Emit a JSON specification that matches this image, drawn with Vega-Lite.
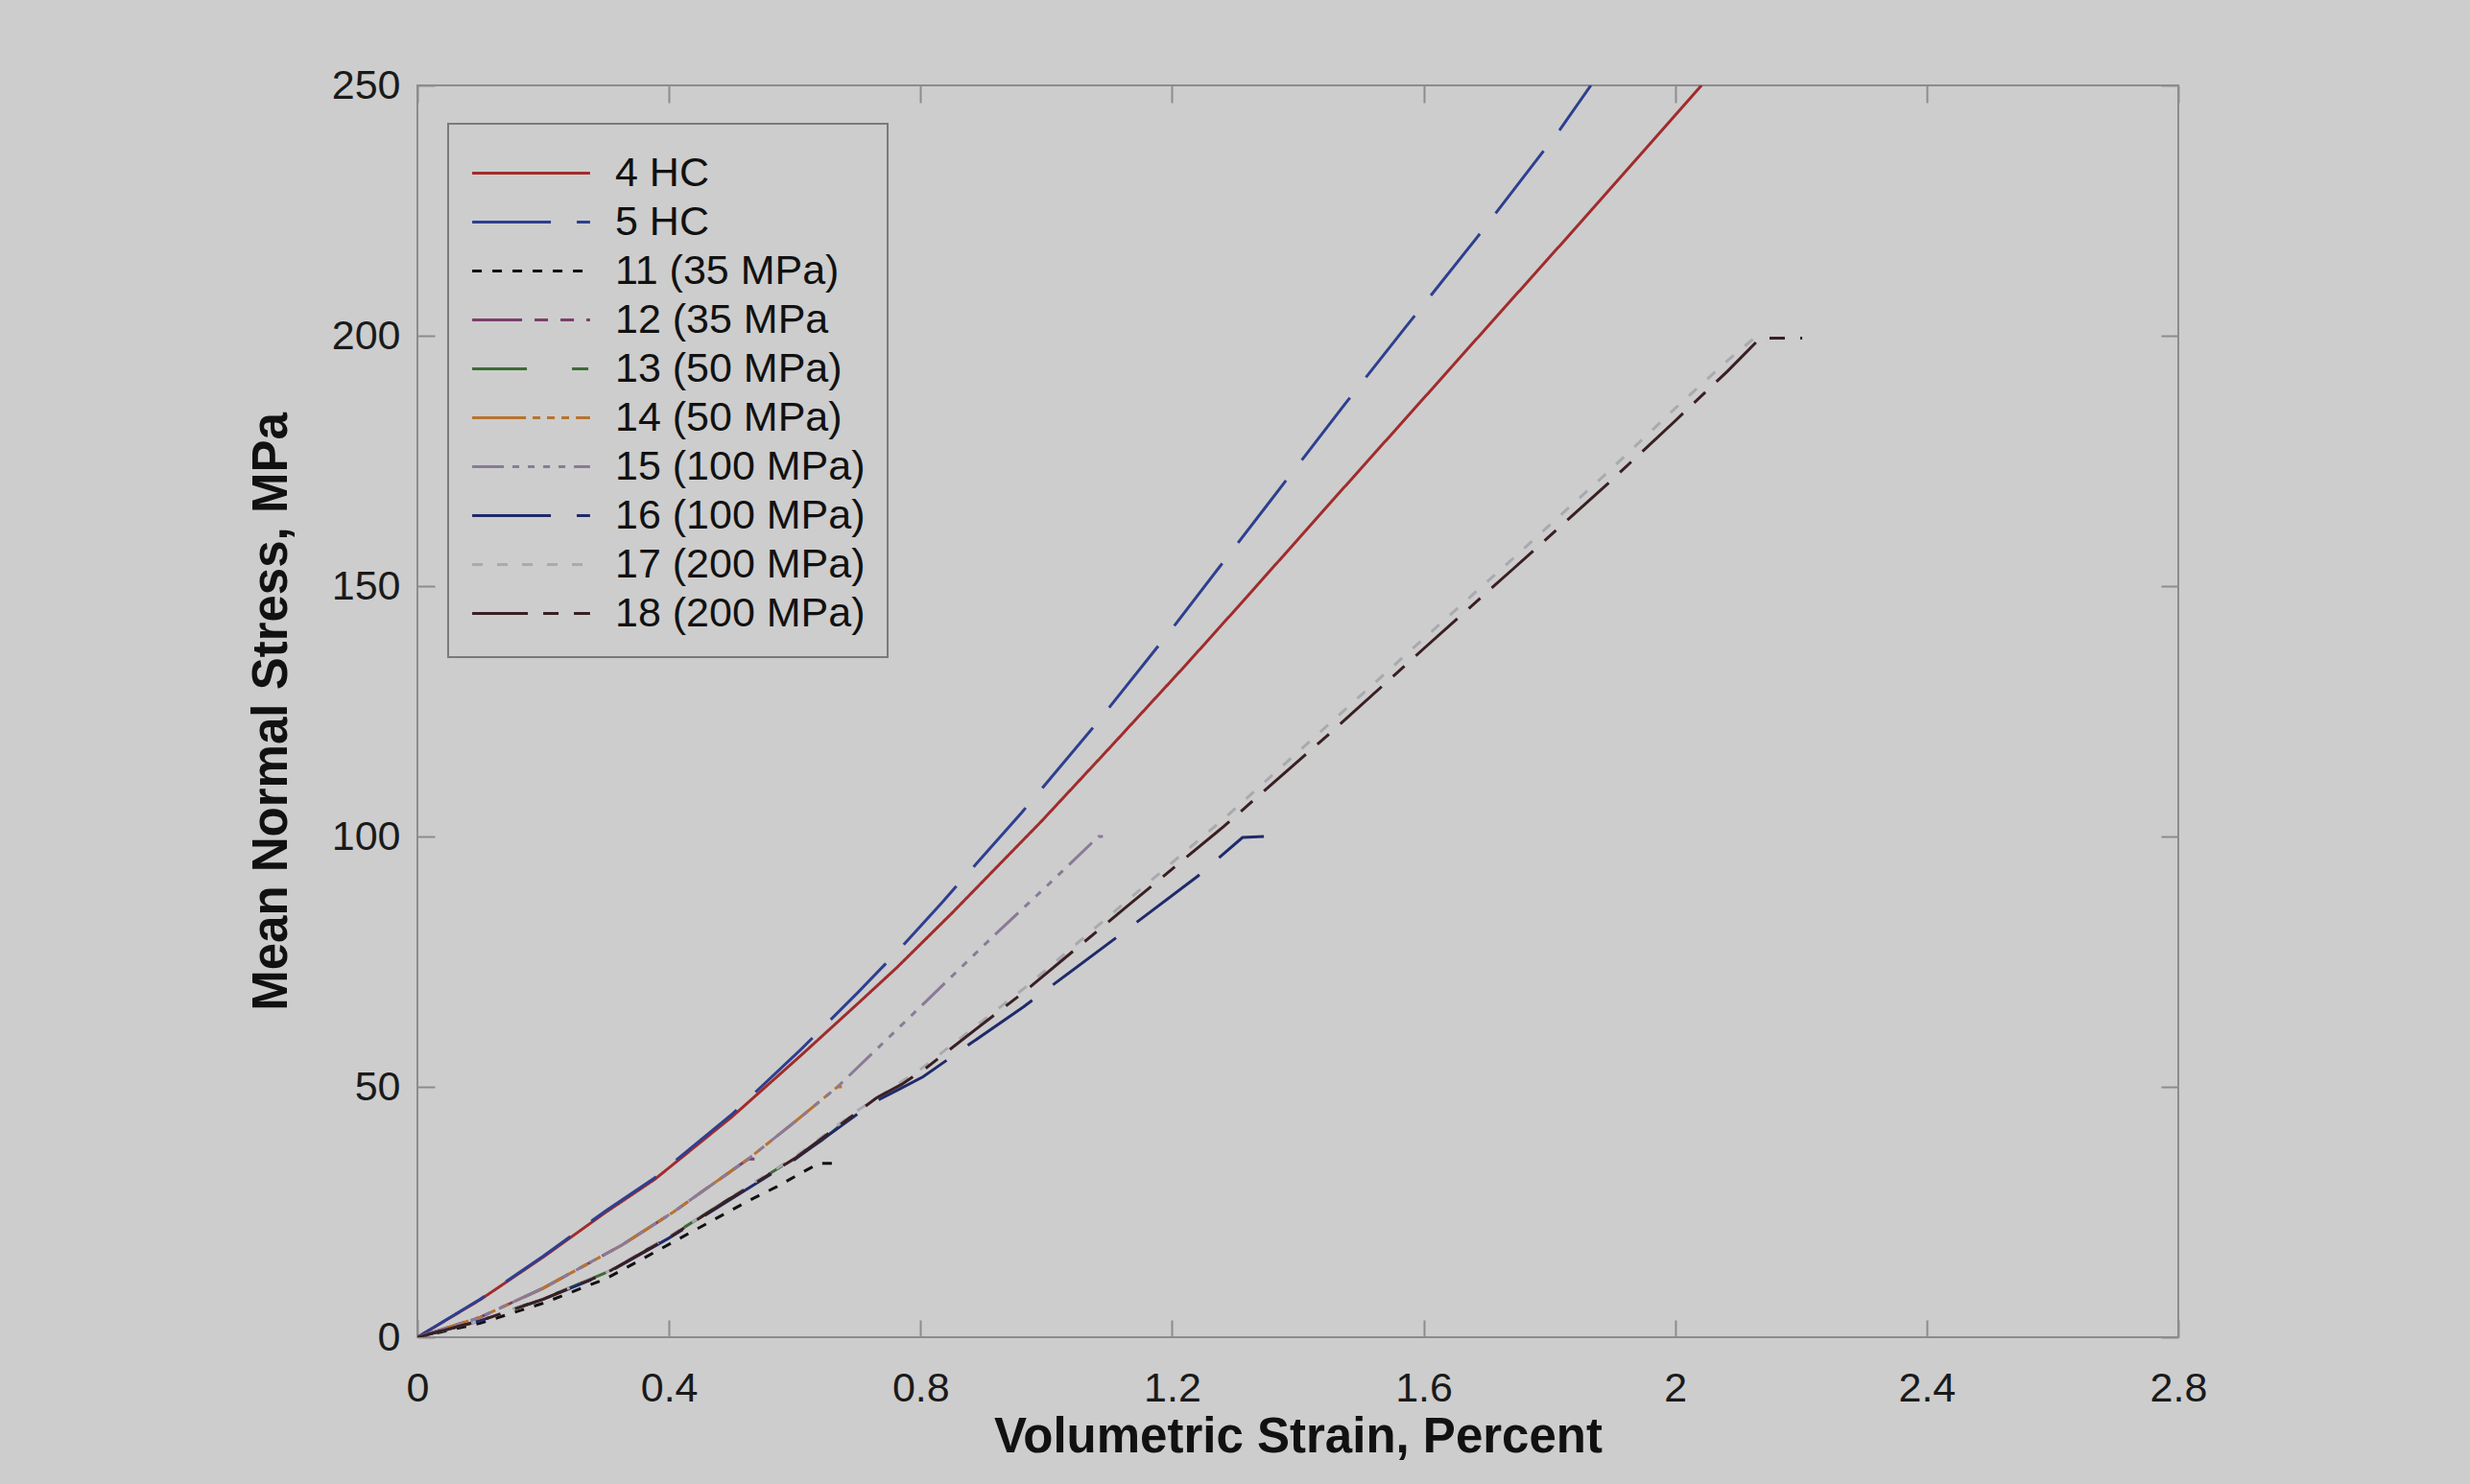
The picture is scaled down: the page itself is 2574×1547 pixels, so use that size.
{
  "$schema": "https://vega.github.io/schema/vega-lite/v6.json",
  "width": 1835,
  "height": 1305,
  "autosize": {"type": "none"},
  "padding": {"left": 435, "top": 89, "right": 304, "bottom": 153},
  "background": "#cdcdcd",
  "config": {
    "font": "Liberation Sans",
    "view": {"stroke": "#8c8c8c", "strokeWidth": 2, "fill": "#cdcdcd"},
    "axis": {
      "domain": false,
      "grid": false,
      "tickColor": "#8c8c8c",
      "tickWidth": 2,
      "tickSize": -18,
      "labelFlush": false,
      "labelFont": "Liberation Sans",
      "labelFontSize": 43,
      "labelColor": "#1a1a1a",
      "titleFont": "Liberation Sans",
      "titleFontSize": 51,
      "titleFontWeight": "bold",
      "titleColor": "#111111"
    },
    "legend": {"strokeWidth": 2}
  },
  "data": {
    "values": [
      {"test": "4 HC", "strain": 0, "stress": 0},
      {"test": "4 HC", "strain": 0.1, "stress": 7.5},
      {"test": "4 HC", "strain": 0.2, "stress": 16},
      {"test": "4 HC", "strain": 0.3, "stress": 25},
      {"test": "4 HC", "strain": 0.377, "stress": 31.5},
      {"test": "4 HC", "strain": 0.5, "stress": 44},
      {"test": "4 HC", "strain": 0.61, "stress": 56.3},
      {"test": "4 HC", "strain": 0.7, "stress": 66.6},
      {"test": "4 HC", "strain": 0.763, "stress": 73.9},
      {"test": "4 HC", "strain": 0.85, "stress": 84.7},
      {"test": "4 HC", "strain": 0.992, "stress": 103},
      {"test": "4 HC", "strain": 1.1, "stress": 117.6},
      {"test": "4 HC", "strain": 1.22, "stress": 134},
      {"test": "4 HC", "strain": 1.32, "stress": 148},
      {"test": "4 HC", "strain": 1.45, "stress": 166.4},
      {"test": "4 HC", "strain": 1.6, "stress": 187.5},
      {"test": "4 HC", "strain": 1.7, "stress": 201.6},
      {"test": "4 HC", "strain": 1.828, "stress": 219.6},
      {"test": "4 HC", "strain": 1.95, "stress": 236.9},
      {"test": "4 HC", "strain": 2.042, "stress": 250},

      {"test": "5 HC", "strain": 0, "stress": 0},
      {"test": "5 HC", "strain": 0.1, "stress": 7.6},
      {"test": "5 HC", "strain": 0.2, "stress": 16.2},
      {"test": "5 HC", "strain": 0.3, "stress": 25.3},
      {"test": "5 HC", "strain": 0.377, "stress": 31.8},
      {"test": "5 HC", "strain": 0.5, "stress": 44.5},
      {"test": "5 HC", "strain": 0.61, "stress": 57.5},
      {"test": "5 HC", "strain": 0.7, "stress": 68.8},
      {"test": "5 HC", "strain": 0.763, "stress": 77},
      {"test": "5 HC", "strain": 0.834, "stress": 86.8},
      {"test": "5 HC", "strain": 0.961, "stress": 104.8},
      {"test": "5 HC", "strain": 1.08, "stress": 122.6},
      {"test": "5 HC", "strain": 1.2, "stress": 141.5},
      {"test": "5 HC", "strain": 1.35, "stress": 166},
      {"test": "5 HC", "strain": 1.472, "stress": 185.9},
      {"test": "5 HC", "strain": 1.57, "stress": 201.5},
      {"test": "5 HC", "strain": 1.686, "stress": 219.8},
      {"test": "5 HC", "strain": 1.817, "stress": 241.2},
      {"test": "5 HC", "strain": 1.866, "stress": 250},

      {"test": "11 (35 MPa)", "strain": 0, "stress": 0},
      {"test": "11 (35 MPa)", "strain": 0.1, "stress": 2.8},
      {"test": "11 (35 MPa)", "strain": 0.2, "stress": 6.8},
      {"test": "11 (35 MPa)", "strain": 0.3, "stress": 11.7},
      {"test": "11 (35 MPa)", "strain": 0.366, "stress": 16.2},
      {"test": "11 (35 MPa)", "strain": 0.447, "stress": 21.8},
      {"test": "11 (35 MPa)", "strain": 0.526, "stress": 27.2},
      {"test": "11 (35 MPa)", "strain": 0.572, "stress": 30.1},
      {"test": "11 (35 MPa)", "strain": 0.613, "stress": 33},
      {"test": "11 (35 MPa)", "strain": 0.638, "stress": 34.7},
      {"test": "11 (35 MPa)", "strain": 0.66, "stress": 34.7},

      {"test": "12 (35 MPa", "strain": 0, "stress": 0},
      {"test": "12 (35 MPa", "strain": 0.1, "stress": 4},
      {"test": "12 (35 MPa", "strain": 0.2, "stress": 9.8},
      {"test": "12 (35 MPa", "strain": 0.264, "stress": 14.2},
      {"test": "12 (35 MPa", "strain": 0.325, "stress": 18.4},
      {"test": "12 (35 MPa", "strain": 0.407, "stress": 25},
      {"test": "12 (35 MPa", "strain": 0.463, "stress": 30},
      {"test": "12 (35 MPa", "strain": 0.526, "stress": 35.6},
      {"test": "12 (35 MPa", "strain": 0.536, "stress": 35.6},

      {"test": "13 (50 MPa)", "strain": 0, "stress": 0},
      {"test": "13 (50 MPa)", "strain": 0.1, "stress": 3.3},
      {"test": "13 (50 MPa)", "strain": 0.2, "stress": 7.7},
      {"test": "13 (50 MPa)", "strain": 0.3, "stress": 12.9},
      {"test": "13 (50 MPa)", "strain": 0.4, "stress": 20},
      {"test": "13 (50 MPa)", "strain": 0.5, "stress": 28},
      {"test": "13 (50 MPa)", "strain": 0.6, "stress": 35.8},
      {"test": "13 (50 MPa)", "strain": 0.643, "stress": 39.3},
      {"test": "13 (50 MPa)", "strain": 0.7, "stress": 45.2},
      {"test": "13 (50 MPa)", "strain": 0.73, "stress": 48.2},
      {"test": "13 (50 MPa)", "strain": 0.748, "stress": 48.6},

      {"test": "14 (50 MPa)", "strain": 0, "stress": 0},
      {"test": "14 (50 MPa)", "strain": 0.1, "stress": 4},
      {"test": "14 (50 MPa)", "strain": 0.2, "stress": 9.8},
      {"test": "14 (50 MPa)", "strain": 0.264, "stress": 14.2},
      {"test": "14 (50 MPa)", "strain": 0.325, "stress": 18.4},
      {"test": "14 (50 MPa)", "strain": 0.407, "stress": 25},
      {"test": "14 (50 MPa)", "strain": 0.463, "stress": 30},
      {"test": "14 (50 MPa)", "strain": 0.526, "stress": 35.6},
      {"test": "14 (50 MPa)", "strain": 0.6, "stress": 43},
      {"test": "14 (50 MPa)", "strain": 0.668, "stress": 50},
      {"test": "14 (50 MPa)", "strain": 0.68, "stress": 50},

      {"test": "15 (100 MPa)", "strain": 0, "stress": 0},
      {"test": "15 (100 MPa)", "strain": 0.1, "stress": 4},
      {"test": "15 (100 MPa)", "strain": 0.2, "stress": 9.8},
      {"test": "15 (100 MPa)", "strain": 0.264, "stress": 14.2},
      {"test": "15 (100 MPa)", "strain": 0.325, "stress": 18.4},
      {"test": "15 (100 MPa)", "strain": 0.407, "stress": 25},
      {"test": "15 (100 MPa)", "strain": 0.463, "stress": 30},
      {"test": "15 (100 MPa)", "strain": 0.526, "stress": 35.6},
      {"test": "15 (100 MPa)", "strain": 0.6, "stress": 43},
      {"test": "15 (100 MPa)", "strain": 0.668, "stress": 50},
      {"test": "15 (100 MPa)", "strain": 0.763, "stress": 61.5},
      {"test": "15 (100 MPa)", "strain": 0.915, "stress": 80},
      {"test": "15 (100 MPa)", "strain": 1.0, "stress": 90},
      {"test": "15 (100 MPa)", "strain": 1.083, "stress": 100},
      {"test": "15 (100 MPa)", "strain": 1.09, "stress": 100},

      {"test": "16 (100 MPa)", "strain": 0, "stress": 0},
      {"test": "16 (100 MPa)", "strain": 0.1, "stress": 3.3},
      {"test": "16 (100 MPa)", "strain": 0.2, "stress": 7.6},
      {"test": "16 (100 MPa)", "strain": 0.3, "stress": 12.7},
      {"test": "16 (100 MPa)", "strain": 0.4, "stress": 19.8},
      {"test": "16 (100 MPa)", "strain": 0.5, "stress": 27.7},
      {"test": "16 (100 MPa)", "strain": 0.6, "stress": 35.5},
      {"test": "16 (100 MPa)", "strain": 0.7, "stress": 44.6},
      {"test": "16 (100 MPa)", "strain": 0.73, "stress": 47.2},
      {"test": "16 (100 MPa)", "strain": 0.77, "stress": 49.8},
      {"test": "16 (100 MPa)", "strain": 0.804, "stress": 52},
      {"test": "16 (100 MPa)", "strain": 0.88, "stress": 58.7},
      {"test": "16 (100 MPa)", "strain": 0.964, "stress": 66},
      {"test": "16 (100 MPa)", "strain": 1.124, "stress": 81},
      {"test": "16 (100 MPa)", "strain": 1.241, "stress": 92.1},
      {"test": "16 (100 MPa)", "strain": 1.312, "stress": 99.8},
      {"test": "16 (100 MPa)", "strain": 1.346, "stress": 100},

      {"test": "17 (200 MPa)", "strain": 0, "stress": 0},
      {"test": "17 (200 MPa)", "strain": 0.1, "stress": 3.3},
      {"test": "17 (200 MPa)", "strain": 0.2, "stress": 7.7},
      {"test": "17 (200 MPa)", "strain": 0.3, "stress": 12.9},
      {"test": "17 (200 MPa)", "strain": 0.4, "stress": 20.1},
      {"test": "17 (200 MPa)", "strain": 0.5, "stress": 28.1},
      {"test": "17 (200 MPa)", "strain": 0.6, "stress": 36},
      {"test": "17 (200 MPa)", "strain": 0.7, "stress": 45.3},
      {"test": "17 (200 MPa)", "strain": 0.8, "stress": 53.5},
      {"test": "17 (200 MPa)", "strain": 0.966, "stress": 69.8},
      {"test": "17 (200 MPa)", "strain": 1.125, "stress": 86.8},
      {"test": "17 (200 MPa)", "strain": 1.282, "stress": 103.5},
      {"test": "17 (200 MPa)", "strain": 1.45, "stress": 122.5},
      {"test": "17 (200 MPa)", "strain": 1.6, "stress": 139.5},
      {"test": "17 (200 MPa)", "strain": 1.742, "stress": 155.5},
      {"test": "17 (200 MPa)", "strain": 1.895, "stress": 173},
      {"test": "17 (200 MPa)", "strain": 2.0, "stress": 185.5},
      {"test": "17 (200 MPa)", "strain": 2.083, "stress": 195},
      {"test": "17 (200 MPa)", "strain": 2.13, "stress": 200},

      {"test": "18 (200 MPa)", "strain": 0, "stress": 0},
      {"test": "18 (200 MPa)", "strain": 0.1, "stress": 3.3},
      {"test": "18 (200 MPa)", "strain": 0.2, "stress": 7.6},
      {"test": "18 (200 MPa)", "strain": 0.3, "stress": 12.8},
      {"test": "18 (200 MPa)", "strain": 0.4, "stress": 19.9},
      {"test": "18 (200 MPa)", "strain": 0.5, "stress": 27.9},
      {"test": "18 (200 MPa)", "strain": 0.6, "stress": 35.7},
      {"test": "18 (200 MPa)", "strain": 0.7, "stress": 45},
      {"test": "18 (200 MPa)", "strain": 0.73, "stress": 47.8},
      {"test": "18 (200 MPa)", "strain": 0.77, "stress": 50.5},
      {"test": "18 (200 MPa)", "strain": 0.809, "stress": 53.8},
      {"test": "18 (200 MPa)", "strain": 0.966, "stress": 69.1},
      {"test": "18 (200 MPa)", "strain": 1.125, "stress": 85.7},
      {"test": "18 (200 MPa)", "strain": 1.282, "stress": 102},
      {"test": "18 (200 MPa)", "strain": 1.45, "stress": 120.5},
      {"test": "18 (200 MPa)", "strain": 1.6, "stress": 137.5},
      {"test": "18 (200 MPa)", "strain": 1.742, "stress": 153.4},
      {"test": "18 (200 MPa)", "strain": 1.895, "stress": 170.7},
      {"test": "18 (200 MPa)", "strain": 2.0, "stress": 183},
      {"test": "18 (200 MPa)", "strain": 2.083, "stress": 192.9},
      {"test": "18 (200 MPa)", "strain": 2.135, "stress": 199.5},
      {"test": "18 (200 MPa)", "strain": 2.202, "stress": 199.5}
    ]
  },
  "layer": [
    {
      "mark": {"type": "line", "strokeWidth": 3, "clip": true},
      "encoding": {
        "x": {
          "field": "strain", "type": "quantitative",
          "scale": {"domain": [0, 2.8], "nice": false, "zero": false},
          "axis": {"orient": "bottom", "values": [0, 0.4, 0.8, 1.2, 1.6, 2, 2.4, 2.8], "format": "~g", "labelPadding": 50, "title": "Volumetric Strain, Percent", "titlePadding": 4}
        },
        "y": {
          "field": "stress", "type": "quantitative",
          "scale": {"domain": [0, 250], "nice": false},
          "axis": {"orient": "left", "values": [0, 50, 100, 150, 200, 250], "labelPadding": 36, "title": "Mean Normal Stress, MPa", "titlePadding": 36}
        },
        "color": {
          "field": "test", "type": "nominal",
          "scale": {
            "domain": ["4 HC", "5 HC", "11 (35 MPa)", "12 (35 MPa", "13 (50 MPa)", "14 (50 MPa)", "15 (100 MPa)", "16 (100 MPa)", "17 (200 MPa)", "18 (200 MPa)"],
            "range": ["#a02c2c", "#2e3f8f", "#111111", "#7b3f6b", "#3d6b35", "#b8742f", "#8a7a98", "#1f2a6b", "#a9a9b0", "#3a1f22"]
          },
          "legend": {
            "orient": "none", "legendX": 32, "legendY": 40, "title": null,
            "symbolType": "M-2.3,0H2.3", "symbolSize": 2852, "symbolStrokeWidth": 3,
            "symbolOffset": 35,
            "labelFontSize": 43, "labelFont": "Liberation Sans", "labelColor": "#111111", "labelLimit": 0,
            "labelOffset": 59, "rowPadding": 0, "padding": 23,
            "strokeColor": "#7a7a7a", "fillColor": "#cdcdcd"
          }
        },
        "strokeDash": {
          "field": "test", "type": "nominal",
          "scale": {
            "domain": ["4 HC", "5 HC", "11 (35 MPa)", "12 (35 MPa", "13 (50 MPa)", "14 (50 MPa)", "15 (100 MPa)", "16 (100 MPa)", "17 (200 MPa)", "18 (200 MPa)"],
            "range": [[1, 0], [82, 27], [10, 11], [52, 13, 14, 13, 14, 13], [57, 47, 17, 30], [56, 7, 8, 7, 8, 7, 8, 7], [33, 9, 7, 9, 7, 9, 7, 9, 7, 9], [82, 27], [11, 15], [58, 16, 16, 16]]
          },
          "legend": {
            "orient": "none", "legendX": 32, "legendY": 40, "title": null,
            "symbolType": "M-2.3,0H2.3", "symbolSize": 2852, "symbolStrokeWidth": 3,
            "symbolOffset": 35,
            "labelFontSize": 43, "labelFont": "Liberation Sans", "labelColor": "#111111", "labelLimit": 0,
            "labelOffset": 59, "rowPadding": 0, "padding": 23,
            "strokeColor": "#7a7a7a", "fillColor": "#cdcdcd"
          }
        }
      }
    },
    {
      "mark": {"type": "line", "opacity": 0},
      "encoding": {
        "x": {
          "field": "strain", "type": "quantitative",
          "scale": {"domain": [0, 2.8], "nice": false, "zero": false},
          "axis": {"orient": "top", "values": [0, 0.4, 0.8, 1.2, 1.6, 2, 2.4, 2.8], "labels": false, "title": null}
        },
        "y": {
          "field": "stress", "type": "quantitative",
          "scale": {"domain": [0, 250], "nice": false},
          "axis": {"orient": "right", "values": [0, 50, 100, 150, 200, 250], "labels": false, "title": null}
        },
        "detail": {"field": "test", "type": "nominal"}
      }
    }
  ],
  "resolve": {"axis": {"x": "independent", "y": "independent"}}
}
